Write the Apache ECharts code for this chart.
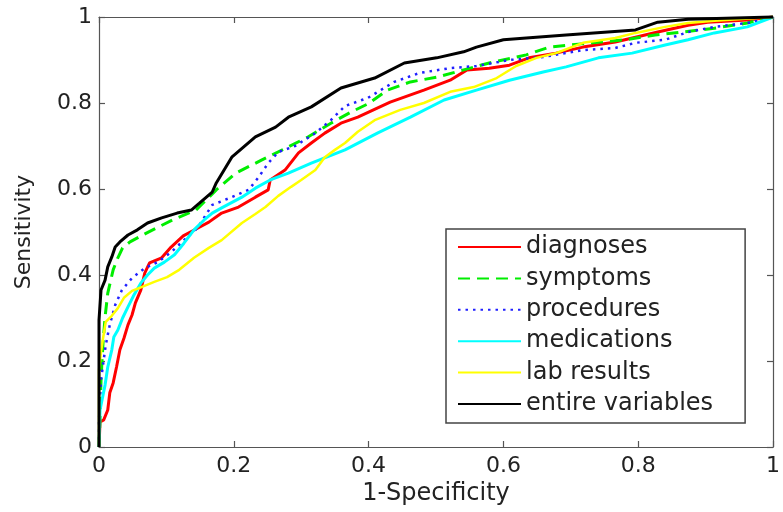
<!DOCTYPE html>
<html>
<head>
<meta charset="utf-8">
<script src="https://cdn.jsdelivr.net/npm/echarts@6/dist/echarts.min.js"></script>
<style>html,body{margin:0;padding:0;background:#fff}#c{width:783px;height:512px}</style>
</head>
<body>
<div id="c"></div>
<script>
const seriesNames = ['diagnoses','symptoms','procedures','medications','lab results','entire variables'];
const tickLabels = ['0','0.2','0.4','0.6','0.8','1'];

const diagnoses = [[0,0],[0.0015,0.058],[0.007,0.063],[0.013,0.086],[0.016,0.126],[0.021,0.149],[0.026,0.186],[0.031,0.226],[0.037,0.253],[0.043,0.284],[0.049,0.307],[0.054,0.335],[0.062,0.365],[0.068,0.405],[0.075,0.428],[0.093,0.44],[0.107,0.465],[0.125,0.491],[0.144,0.507],[0.163,0.523],[0.182,0.544],[0.207,0.558],[0.232,0.581],[0.251,0.598],[0.254,0.621],[0.276,0.644],[0.296,0.684],[0.315,0.707],[0.335,0.73],[0.359,0.753],[0.384,0.767],[0.432,0.802],[0.482,0.83],[0.521,0.853],[0.546,0.877],[0.579,0.881],[0.609,0.888],[0.638,0.905],[0.678,0.916],[0.718,0.93],[0.766,0.942],[0.796,0.953],[0.829,0.965],[0.874,0.981],[0.903,0.988],[0.962,0.993],[1,1]];

const symptoms = [[0,0],[0.0015,0.063],[0.003,0.156],[0.004,0.186],[0.006,0.242],[0.009,0.302],[0.013,0.358],[0.021,0.412],[0.028,0.44],[0.035,0.463],[0.046,0.477],[0.071,0.498],[0.109,0.528],[0.144,0.551],[0.174,0.598],[0.203,0.637],[0.241,0.667],[0.281,0.698],[0.31,0.721],[0.344,0.753],[0.374,0.779],[0.399,0.798],[0.428,0.83],[0.462,0.849],[0.501,0.86],[0.541,0.877],[0.579,0.893],[0.634,0.912],[0.668,0.93],[0.732,0.94],[0.781,0.947],[0.825,0.958],[0.865,0.965],[0.913,0.974],[0.962,0.986],[1,1]];

const procedures = [[0,0],[0,0.063],[0.003,0.156],[0.006,0.191],[0.01,0.237],[0.016,0.284],[0.024,0.33],[0.034,0.365],[0.049,0.393],[0.068,0.416],[0.087,0.43],[0.107,0.453],[0.126,0.481],[0.146,0.509],[0.168,0.563],[0.197,0.581],[0.222,0.598],[0.237,0.628],[0.251,0.66],[0.266,0.686],[0.291,0.7],[0.321,0.73],[0.344,0.76],[0.365,0.793],[0.399,0.812],[0.438,0.849],[0.476,0.87],[0.521,0.881],[0.56,0.886],[0.609,0.9],[0.659,0.907],[0.718,0.923],[0.766,0.928],[0.796,0.94],[0.84,0.947],[0.874,0.965],[0.913,0.977],[0.962,0.986],[1,1]];

const medications = [[0,0],[0.0015,0.086],[0.006,0.121],[0.009,0.144],[0.013,0.186],[0.019,0.226],[0.022,0.256],[0.028,0.272],[0.035,0.3],[0.043,0.326],[0.051,0.351],[0.062,0.381],[0.072,0.4],[0.082,0.416],[0.097,0.43],[0.112,0.447],[0.126,0.474],[0.141,0.505],[0.156,0.528],[0.168,0.544],[0.182,0.556],[0.212,0.581],[0.232,0.602],[0.254,0.621],[0.281,0.637],[0.315,0.66],[0.365,0.691],[0.413,0.73],[0.462,0.767],[0.512,0.807],[0.56,0.83],[0.609,0.853],[0.659,0.872],[0.693,0.884],[0.741,0.905],[0.791,0.916],[0.84,0.935],[0.874,0.947],[0.913,0.963],[0.962,0.977],[1,1]];

const labResults = [[0,0],[0,0.179],[0.003,0.221],[0.006,0.253],[0.01,0.291],[0.019,0.305],[0.028,0.323],[0.037,0.347],[0.049,0.363],[0.063,0.372],[0.082,0.384],[0.101,0.395],[0.119,0.412],[0.141,0.44],[0.163,0.463],[0.182,0.481],[0.212,0.521],[0.232,0.542],[0.247,0.558],[0.266,0.584],[0.285,0.605],[0.3,0.621],[0.321,0.644],[0.335,0.674],[0.35,0.691],[0.365,0.707],[0.384,0.733],[0.409,0.76],[0.447,0.784],[0.482,0.8],[0.521,0.826],[0.556,0.837],[0.59,0.858],[0.619,0.886],[0.649,0.905],[0.678,0.916],[0.718,0.94],[0.766,0.951],[0.796,0.963],[0.84,0.977],[0.874,0.986],[0.913,0.991],[1,1]];

const entireVariables = [[0,0],[0,0.295],[0.003,0.365],[0.009,0.388],[0.013,0.419],[0.019,0.442],[0.024,0.465],[0.031,0.477],[0.043,0.493],[0.057,0.505],[0.072,0.521],[0.093,0.533],[0.116,0.544],[0.137,0.551],[0.149,0.567],[0.168,0.593],[0.174,0.614],[0.197,0.674],[0.232,0.721],[0.262,0.744],[0.281,0.767],[0.315,0.791],[0.359,0.835],[0.409,0.858],[0.453,0.893],[0.501,0.905],[0.541,0.919],[0.56,0.93],[0.6,0.947],[0.634,0.951],[0.693,0.958],[0.796,0.97],[0.829,0.988],[0.874,0.995],[1,1]];

const allData = [diagnoses, symptoms, procedures, medications, labResults, entireVariables];
const styles = [
  {color:'#ff0000', width:3, type:'solid'},
  {color:'#00ee00', width:3, type:[12,7]},
  {color:'#2020ff', width:2.5, type:[2.5,5]},
  {color:'#00ffff', width:3, type:'solid'},
  {color:'#ffff00', width:2.5, type:'solid'},
  {color:'#000000', width:3, type:'solid'}
];

const font = 'DejaVu Sans, Liberation Sans, Arial, sans-serif';
const axisBase = {
  type:'value', min:0, max:1, interval:0.2,
  axisLine:{show:true, onZero:false, lineStyle:{color:'#555', width:1.2}},
  axisTick:{show:true, inside:true, length:6, lineStyle:{color:'#555', width:1.2}},
  splitLine:{show:false}
};
const fmt = v => tickLabels[Math.round(v/0.2)];

const chart = echarts.init(document.getElementById('c'), null, {renderer:'canvas'});
chart.setOption({
  animation:false,
  backgroundColor:'#fff',
  grid:{left:99, right:4, top:17, bottom:65, containLabel:false},
  legend:{
    orient:'vertical', left:446, top:229,
    data: seriesNames,
    itemWidth:63, itemHeight:14, itemGap:7.4,
    padding:[6,32,7,11],
    backgroundColor:'#fff', borderColor:'#444', borderWidth:1.5,
    itemStyle:{opacity:0},
    lineStyle:{inactiveWidth:0},
    textStyle:{fontFamily:font, fontSize:24, color:'#222', lineHeight:24}
  },
  xAxis:[
    Object.assign({}, axisBase, {position:'bottom', name:'1-Specificity', nameLocation:'middle', nameGap:30,
      nameTextStyle:{fontFamily:font, fontSize:24, color:'#222'},
      axisLabel:{fontFamily:font, fontSize:22, color:'#222', margin:8, formatter:fmt}}),
    Object.assign({}, axisBase, {position:'top', axisLabel:{show:false}})
  ],
  yAxis:[
    Object.assign({}, axisBase, {position:'left', name:'Sensitivity', nameLocation:'middle', nameGap:64,
      nameTextStyle:{fontFamily:font, fontSize:22, color:'#222'},
      axisLabel:{fontFamily:font, fontSize:22, color:'#222', margin:7, formatter:fmt}}),
    Object.assign({}, axisBase, {position:'right', axisLabel:{show:false}})
  ],
  series: allData.map((d,i) => ({
    name: seriesNames[i], type:'line', data:d, symbol:'none', showSymbol:false,
    clip:false, smooth:false,
    itemStyle:{color:styles[i].color},
    lineStyle:{color:styles[i].color, width:styles[i].width, type:styles[i].type}
  }))
});
</script>
</body>
</html>
